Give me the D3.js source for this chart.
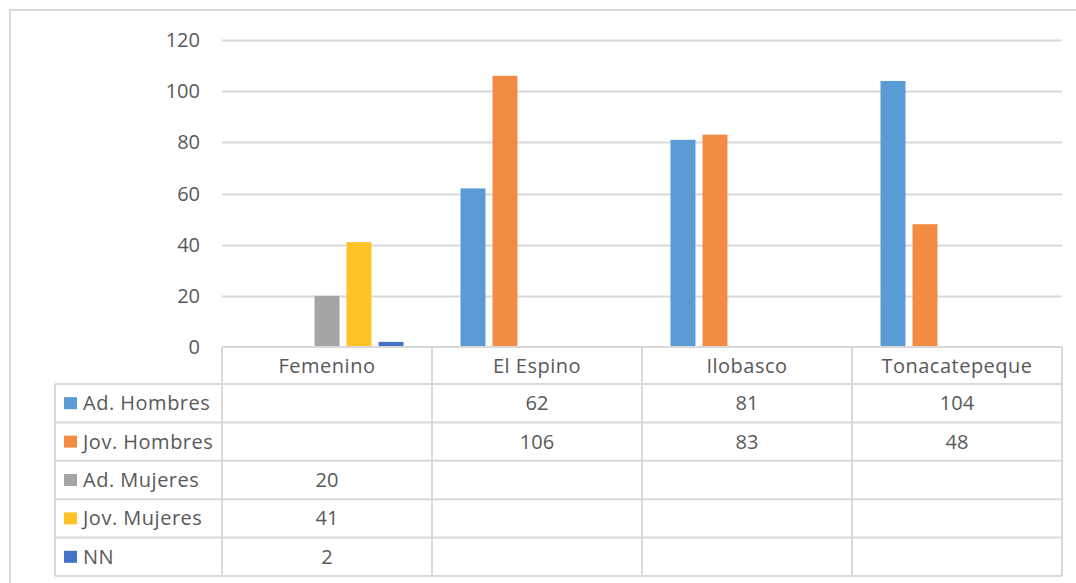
<!DOCTYPE html>
<html>
<head>
<meta charset="utf-8">
<script src="https://cdn.jsdelivr.net/npm/d3@7"></script>
<style>
  body { margin: 0; background: #fff; }
  text { font-family: "Open Sans", sans-serif; fill: #595959; }
</style>
</head>
<body>
<div id="chart"></div>
<script>
// data
var categories = ["Femenino", "El Espino", "Ilobasco", "Tonacatepeque"];
var seriesNames = ["Ad. Hombres", "Jov. Hombres", "Ad. Mujeres", "Jov. Mujeres", "NN"];
var seriesColors = ["#5b9bd5", "#f28c42", "#a5a5a5", "#ffc328", "#4472c4"];
var adHombres = [null, 62, 81, 104];
var jovHombres = [null, 106, 83, 48];
var adMujeres = [20, null, null, null];
var jovMujeres = [41, null, null, null];
var nn = [2, null, null, null];
var yTicks = [0, 20, 40, 60, 80, 100, 120];

var seriesValues = [adHombres, jovHombres, adMujeres, jovMujeres, nn];

var W = 1076, H = 583;
var margin = { left: 222, right: 14, top: 40, plotBottom: 347 };
var tableLeft = 55, tableBottom = 576;

var svg = d3.select("#chart").append("svg")
    .attr("width", W)
    .attr("height", H);

// chart border (cut off at right and bottom)
svg.append("rect")
    .attr("x", 10).attr("y", 10)
    .attr("width", W + 20).attr("height", H + 20)
    .attr("fill", "none")
    .attr("stroke", "#d9d9d9")
    .attr("stroke-width", 2);

var x0 = d3.scaleBand()
    .domain(categories)
    .range([margin.left, W - margin.right]);

var x1 = d3.scaleBand()
    .domain(seriesNames)
    .range([0, x0.bandwidth()])
    .paddingInner(0.22)
    .paddingOuter(0.89);

var y = d3.scaleLinear()
    .domain([0, 120])
    .range([margin.plotBottom, margin.top]);

// gridlines
svg.append("g")
    .selectAll("line")
    .data(yTicks.filter(function(d) { return d > 0; }))
    .enter()
    .append("line")
    .attr("x1", margin.left)
    .attr("x2", W - margin.right)
    .attr("y1", function(d) { return Math.round(y(d)) + 0.5; })
    .attr("y2", function(d) { return Math.round(y(d)) + 0.5; })
    .attr("stroke", "#d9d9d9")
    .attr("stroke-width", 2);

// y tick labels
svg.append("g")
    .selectAll("text")
    .data(yTicks)
    .enter()
    .append("text")
    .attr("x", 200)
    .attr("y", function(d) { return y(d); })
    .attr("dy", "0.35em")
    .attr("text-anchor", "end")
    .style("font-size", "20px")
    .text(function(d) { return d; });

// bars
var bars = [];
seriesValues.forEach(function(vals, si) {
    vals.forEach(function(v, ci) {
        if (v != null) bars.push({ cat: categories[ci], series: seriesNames[si], color: seriesColors[si], value: v });
    });
});

svg.append("g")
    .selectAll("rect")
    .data(bars)
    .enter()
    .append("rect")
    .attr("x", function(d) { return x0(d.cat) + x1(d.series); })
    .attr("y", function(d) { return y(d.value); })
    .attr("width", x1.bandwidth())
    .attr("height", function(d) { return y(0) - y(d.value); })
    .attr("fill", function(d) { return d.color; });

////////// data table //////////

var rows = d3.scaleBand()
    .domain(seriesNames)
    .range([384, tableBottom]);

var table = svg.append("g").attr("class", "table");
var lineColor = "#d9d9d9";

// horizontal lines
table.append("line")
    .attr("x1", margin.left).attr("x2", W - margin.right)
    .attr("y1", margin.plotBottom).attr("y2", margin.plotBottom)
    .attr("stroke", lineColor).attr("stroke-width", 2);

table.selectAll(".hline")
    .data(seriesNames.map(function(s) { return rows(s); }).concat([tableBottom]))
    .enter()
    .append("line")
    .attr("class", "hline")
    .attr("x1", tableLeft).attr("x2", W - margin.right)
    .attr("y1", function(d) { return d; })
    .attr("y2", function(d) { return d; })
    .attr("stroke", lineColor).attr("stroke-width", 2);

// vertical lines
var colEdges = categories.map(function(c) { return x0(c); }).concat([W - margin.right]);
table.selectAll(".vline")
    .data(colEdges)
    .enter()
    .append("line")
    .attr("class", "vline")
    .attr("x1", function(d) { return d; })
    .attr("x2", function(d) { return d; })
    .attr("y1", margin.plotBottom).attr("y2", tableBottom)
    .attr("stroke", lineColor).attr("stroke-width", 2);

table.append("line")
    .attr("x1", tableLeft).attr("x2", tableLeft)
    .attr("y1", 384).attr("y2", tableBottom)
    .attr("stroke", lineColor).attr("stroke-width", 2);

// header labels
table.selectAll(".cat")
    .data(categories)
    .enter()
    .append("text")
    .attr("class", "cat")
    .attr("x", function(d) { return x0(d) + x0.bandwidth() / 2; })
    .attr("y", (margin.plotBottom + 384) / 2)
    .attr("dy", "0.35em")
    .attr("text-anchor", "middle")
    .style("font-size", "20px")
    .style("letter-spacing", "0.5px")
    .text(function(d) { return d; });

// legend keys and names
var rowG = table.selectAll(".row")
    .data(seriesNames)
    .enter()
    .append("g")
    .attr("class", "row");

rowG.append("rect")
    .attr("x", 64)
    .attr("y", function(d) { return rows(d) + rows.bandwidth() / 2 - 6; })
    .attr("width", 13)
    .attr("height", 12)
    .attr("fill", function(d, i) { return seriesColors[i]; });

rowG.append("text")
    .attr("x", 83)
    .attr("y", function(d) { return rows(d) + rows.bandwidth() / 2; })
    .attr("dy", "0.35em")
    .style("font-size", "20px")
    .style("letter-spacing", "0.5px")
    .text(function(d) { return d; });

// cell values
table.selectAll(".cell")
    .data(bars)
    .enter()
    .append("text")
    .attr("class", "cell")
    .attr("x", function(d) { return x0(d.cat) + x0.bandwidth() / 2; })
    .attr("y", function(d) { return rows(d.series) + rows.bandwidth() / 2; })
    .attr("dy", "0.35em")
    .attr("text-anchor", "middle")
    .style("font-size", "20px")
    .text(function(d) { return d.value; });
</script>
</body>
</html>
